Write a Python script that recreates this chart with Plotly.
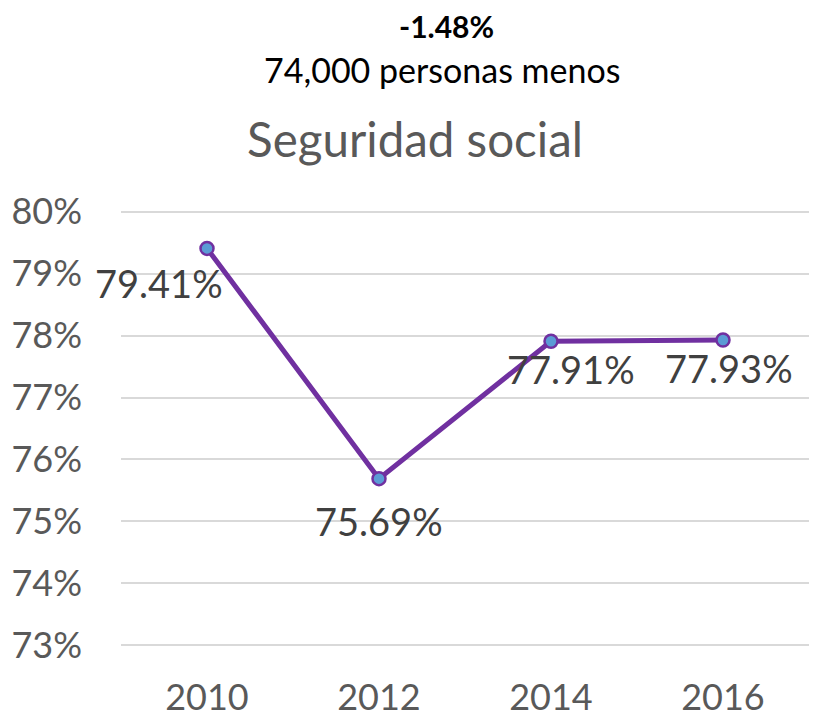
import plotly.graph_objects as go

years = [2010, 2012, 2014, 2016]
values = [79.41, 75.69, 77.91, 77.93]
labels = ["79.41%", "75.69%", "77.91%", "77.93%"]
label_dx = [-48, 0, 20, 6]
label_dy = [-35, -42, -28, -28]

y_ticks = [73, 74, 75, 76, 77, 78, 79, 80]
y_ticktext = ["73%", "74%", "75%", "76%", "77%", "78%", "79%", "80%"]

title = "Seguridad social"
top_line1 = "-1.48%"
top_line2 = "74,000 personas menos"

FONT = "Lato"
fig = go.Figure()
fig.add_trace(go.Scatter(
    x=years, y=values, mode="lines+markers",
    line=dict(color="#7030A0", width=5),
    marker=dict(size=13, color="#5B9BD5", line=dict(color="#7030A0", width=2.5)),
    hoverinfo="skip", showlegend=False, cliponaxis=False,
))
for x, y, t, dx, dy in zip(years, values, labels, label_dx, label_dy):
    fig.add_annotation(x=x, y=y, text=t, showarrow=False, xshift=dx, yshift=dy,
                       font=dict(family=FONT, size=38, color="#404040"))

fig.add_annotation(xref="paper", yref="paper", x=0.473, y=1.0, yshift=184,
                   yanchor="middle", text="<b>" + top_line1 + "</b>", showarrow=False,
                   borderpad=0,
                   font=dict(family=FONT, size=30, color="#000000"))
fig.add_annotation(xref="paper", yref="paper", x=0.4666, y=1.0, yshift=141,
                   yanchor="middle", text=top_line2, showarrow=False,
                   font=dict(family=FONT, size=34, color="#000000"))

fig.update_layout(
    width=824, height=720,
    margin=dict(l=113, r=23, t=202, b=81, autoexpand=False),
    paper_bgcolor="white", plot_bgcolor="white",
    title=dict(text=title, x=0.494, xanchor="center", y=1 - 132 / 720, yanchor="middle",
               font=dict(family=FONT, size=47.5, color="#595959")),
    xaxis=dict(range=[2009, 2017], tickvals=years, showgrid=False, showline=False,
               zeroline=False, automargin=False,
               tickfont=dict(family=FONT, size=36, color="#595959"),
               ticks="", ticklabelstandoff=26),
    yaxis=dict(range=[72.97, 80.03], tickvals=y_ticks, ticktext=y_ticktext,
               showgrid=True, automargin=False,
               gridcolor="#D9D9D9", gridwidth=1.5, zeroline=False, showline=False,
               tickfont=dict(family=FONT, size=36, color="#595959"),
               ticklabelstandoff=38),
)
fig.write_html("out.html")
